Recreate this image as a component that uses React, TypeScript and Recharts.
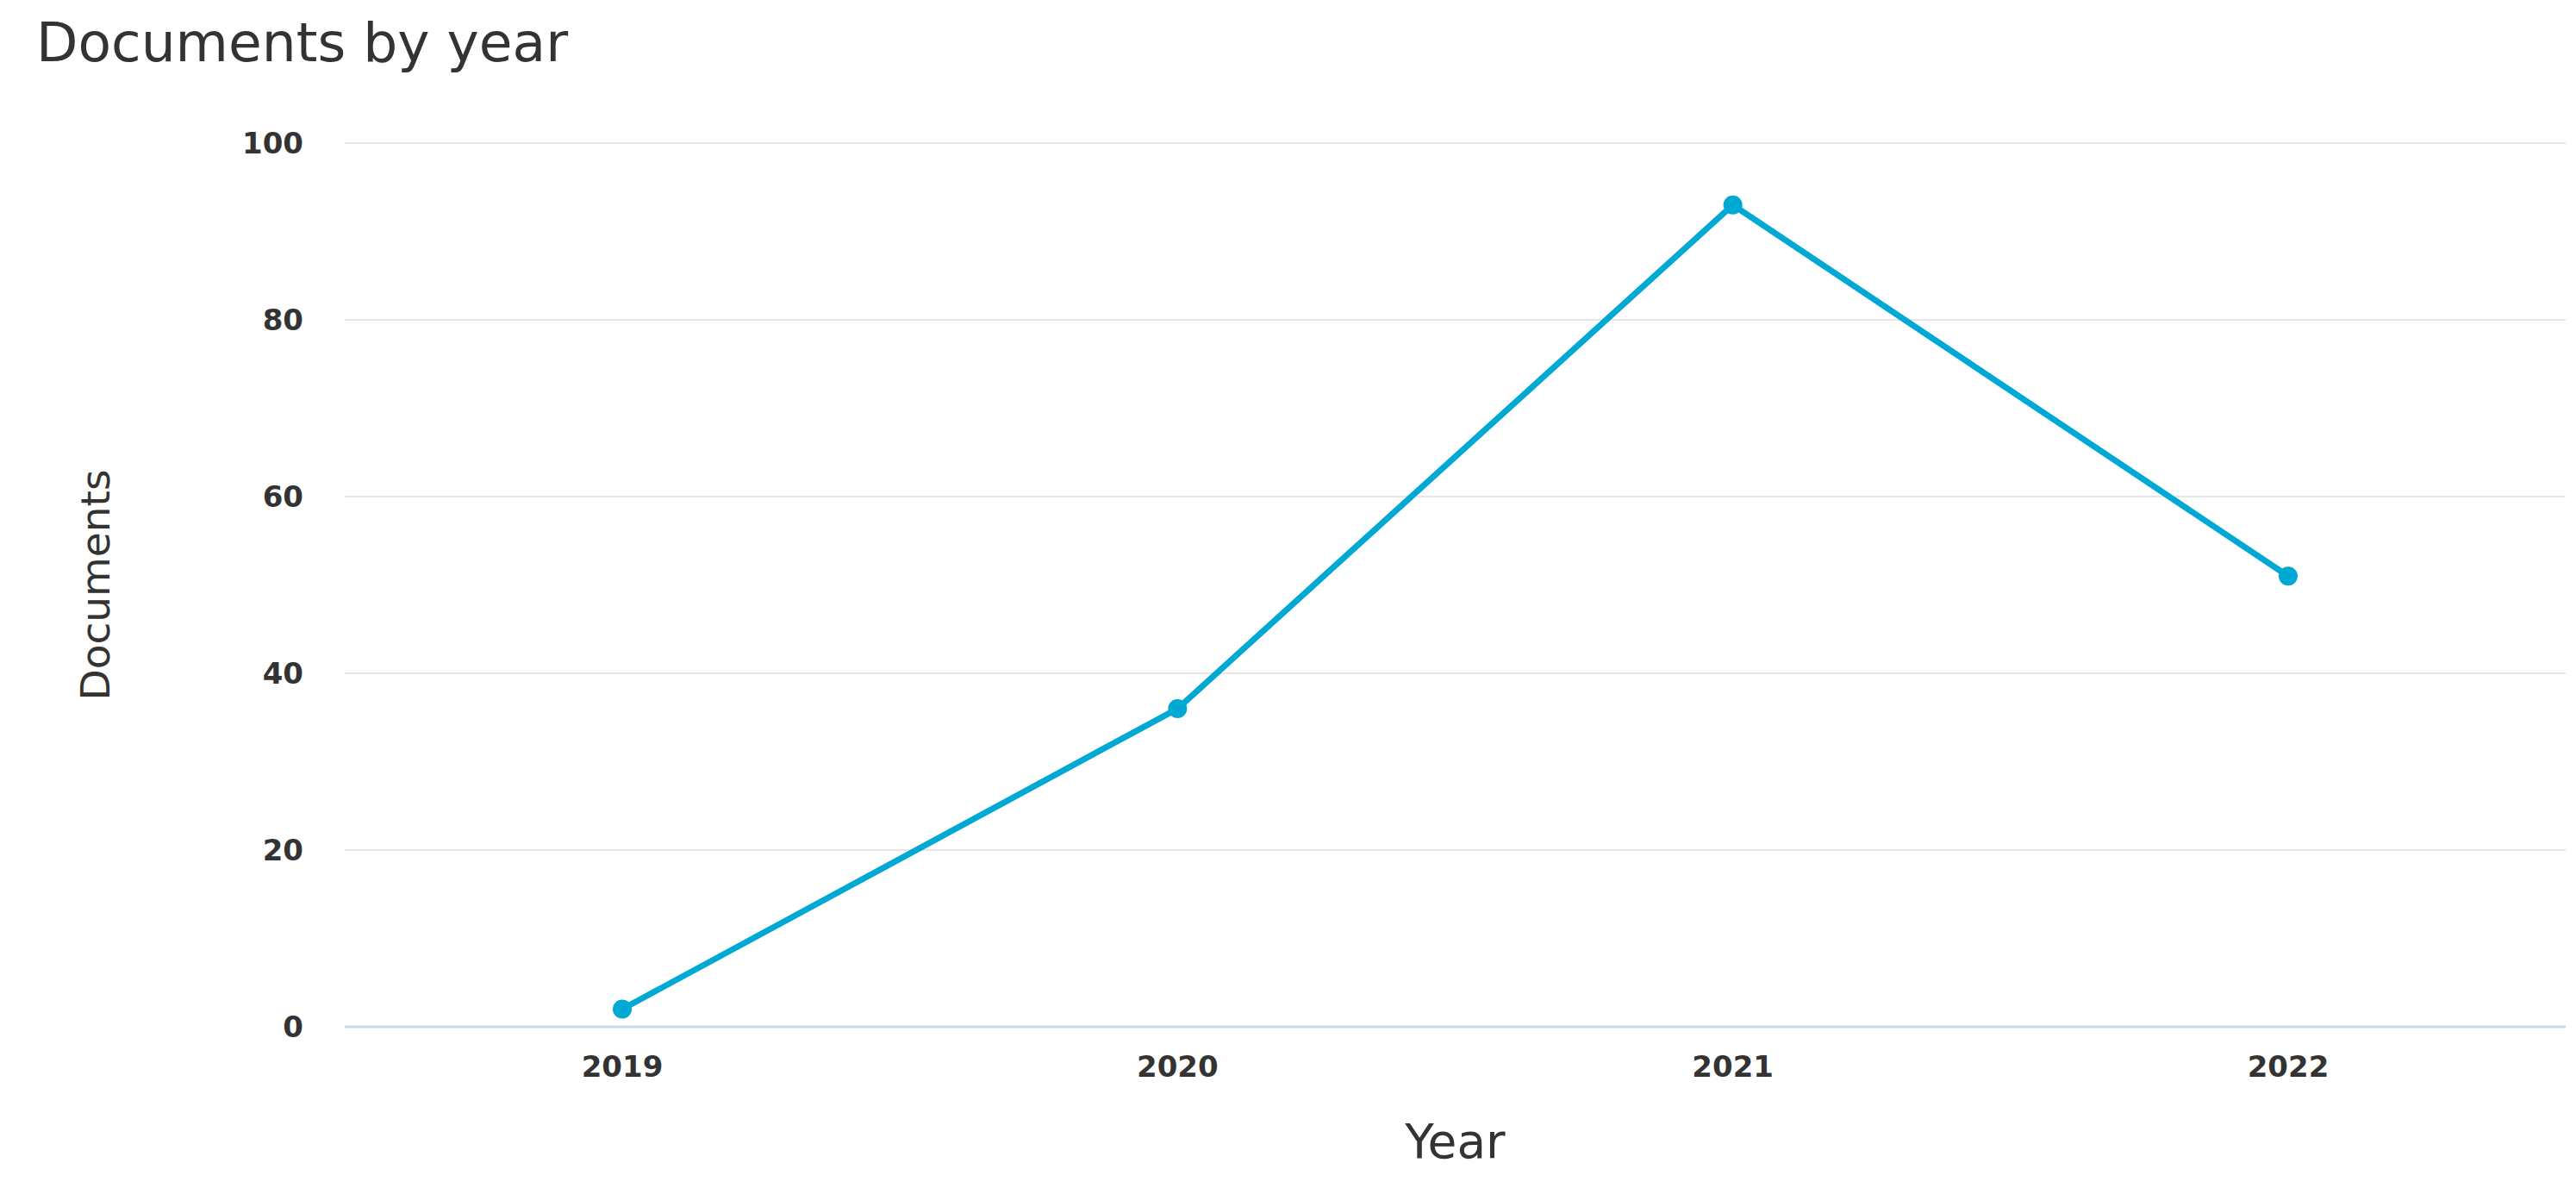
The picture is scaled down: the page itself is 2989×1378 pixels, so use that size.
import { LineChart, Line, XAxis, YAxis, CartesianGrid } from "recharts"

const years = ["2019", "2020", "2021", "2022"]
const documents = [2, 36, 93, 51]
const yTicks = [0, 20, 40, 60, 80, 100]

const data = years.map((year, i) => ({ year, documents: documents[i] }))

const LINE = "#00a8d4"
const TEXT = "#333333"
const FONT = "'DejaVu Sans', sans-serif"

function YLabel({ viewBox }: any) {
  const x = viewBox.x + 110
  const y = viewBox.y + viewBox.height / 2
  return (
    <text x={x} y={y} transform={`rotate(-90 ${x} ${y})`} textAnchor="middle"
          dominantBaseline="central" fontSize={47} fontFamily={FONT} fill={TEXT}>
      Documents
    </text>
  )
}

export default function App() {
  return (
    <div style={{ position: "absolute", left: 0, top: 0, width: 2989, height: 1378, background: "#fff" }}>
      <div style={{
        position: "absolute", left: 42, top: 0, fontFamily: FONT, fontSize: 63,
        color: TEXT, lineHeight: "100px",
      }}>
        Documents by year
      </div>
      <LineChart width={2989} height={1378} data={data}
                 margin={{ top: 166, right: 12, left: 0, bottom: 0 }}>
        <CartesianGrid horizontal vertical={false} stroke="#e6e6e6" strokeWidth={2} />
        <XAxis
          dataKey="year"
          height={187}
          padding={{ left: 322, right: 322 }}
          axisLine={{ stroke: "#ccd6eb", strokeWidth: 3 }}
          tickLine={false}
          tickSize={0}
          tickMargin={34}
          tick={{ fontSize: 34, fill: TEXT, fontFamily: FONT, fontWeight: 700 }}
          label={{ value: "Year", position: "insideBottom", offset: 35, fontSize: 55, fill: TEXT, fontFamily: FONT }}
        />
        <YAxis
          width={400}
          domain={[0, 100]}
          ticks={yTicks}
          axisLine={false}
          tickLine={false}
          tickSize={0}
          tickMargin={48}
          tick={{ fontSize: 34, fill: TEXT, fontFamily: FONT, fontWeight: 700 }}
          label={<YLabel />}
        />
        <Line
          type="linear"
          dataKey="documents"
          stroke={LINE}
          strokeWidth={7}
          dot={{ r: 11, fill: LINE, stroke: "none" }}
          isAnimationActive={false}
        />
      </LineChart>
    </div>
  )
}
